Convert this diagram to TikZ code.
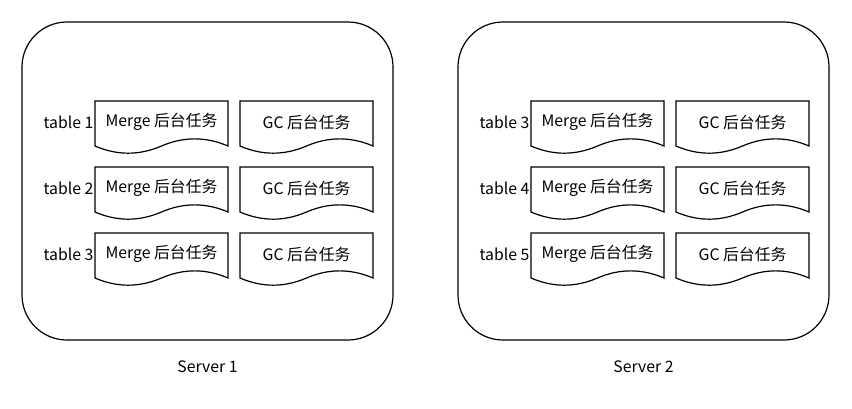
\documentclass[tikz,border=0pt]{standalone}
\usepackage{fontspec}
\setmainfont{Noto Sans CJK SC}
\begin{document}
\begin{tikzpicture}[x=1pt,y=-1pt,
  server/.style={draw=black,line width=1.2pt,rounded corners=45pt},
  doc/.style={draw=black,line width=1.2pt,fill=white},
  lbl/.style={font=\fontsize{15.8}{18}\selectfont,inner sep=0pt},
]
\useasboundingbox (0,0) rectangle (852,408);
\newcommand{\mydoc}[4]{% name, x, y, text
  \begin{scope}[shift={(#2,#3)}]
  \draw[doc] (0,0) -- (133,0) -- (133,45)
    .. controls (110.83,35.49) and (88.67,35.49) .. (66.5,45)
    .. controls (44.33,54.57) and (22.17,54.57) .. (0,45) -- cycle;
  \node[lbl] (#1) at (66.5,21) {#4};
  \end{scope}
}
\foreach \s/\dx/\ta/\tb/\tc in {1/0/1/2/3, 2/436/3/4/5}{
  \draw[server] (22+\dx,22) rectangle (393+\dx,340);
  \node[lbl] (srv\s) at (207.5+\dx,367) {Server \s};
  \foreach \r/\t in {0/\ta, 1/\tb, 2/\tc}{
    \pgfmathsetmacro{\yy}{101+66*\r}
    \mydoc{m\s\r}{95+\dx}{\yy}{Merge 后台任务}
    \mydoc{g\s\r}{240+\dx}{\yy}{GC 后台任务}
    \node[lbl,anchor=east] (t\s\r) at (93.5+\dx,\yy+21) {table \t};
  }
}
\end{tikzpicture}
\end{document}
